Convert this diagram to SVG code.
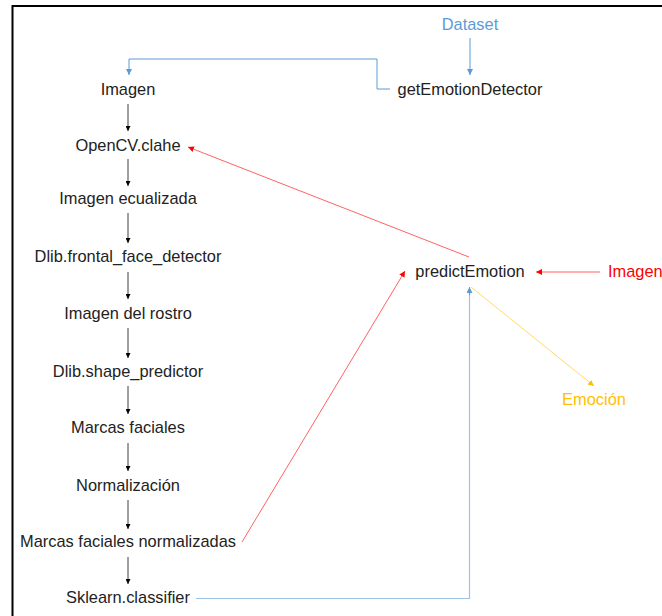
<svg xmlns="http://www.w3.org/2000/svg" width="662" height="616" viewBox="0 0 662 616">
<defs>
<style>
text{font-family:"Liberation Sans",Arial,sans-serif;font-size:16.4px;fill:#222;text-anchor:middle}
.blue{fill:#5B9BD5}.red{fill:#FF0000}.yel{fill:#FFC000}
.k{stroke:#404040;stroke-width:1;fill:none;marker-end:url(#ak)}
.b{stroke:#5B9BD5;stroke-width:1;fill:none}
.bl{stroke:#9DC3E6;stroke-width:1.2;fill:none}
.r{stroke:#FF5050;stroke-width:0.9;fill:none;marker-end:url(#ar)}
.y{stroke:#FFD966;stroke-width:1;fill:none;marker-end:url(#ay)}
</style>
<marker id="ak" viewBox="0 0 10 10" refX="10" refY="5" markerWidth="5" markerHeight="5" markerUnits="userSpaceOnUse" orient="auto"><path d="M0,0L10,5L0,10z" fill="#000"/></marker>
<marker id="ab" viewBox="0 0 10 10" refX="10" refY="5" markerWidth="6" markerHeight="6" markerUnits="userSpaceOnUse" orient="auto"><path d="M0,0L10,5L0,10z" fill="#5B9BD5"/></marker>
<marker id="ar" viewBox="0 0 10 10" refX="10" refY="5" markerWidth="6" markerHeight="6" markerUnits="userSpaceOnUse" orient="auto"><path d="M0,0L10,5L0,10z" fill="#FF0000"/></marker>
<marker id="ay" viewBox="0 0 10 10" refX="10" refY="5" markerWidth="6" markerHeight="6" markerUnits="userSpaceOnUse" orient="auto"><path d="M0,0L10,5L0,10z" fill="#FFC000"/></marker>
</defs>
<rect x="0" y="0" width="662" height="616" fill="#fff"/>
<rect x="12.5" y="6" width="700" height="700" fill="none" stroke="#000" stroke-width="2"/>
<g id="connectors">
<line class="k" x1="128" y1="104" x2="128" y2="131"/>
<line class="k" x1="128" y1="159" x2="128" y2="186"/>
<line class="k" x1="128" y1="213" x2="128" y2="243"/>
<line class="k" x1="128" y1="272" x2="128" y2="299"/>
<line class="k" x1="128" y1="328" x2="128" y2="358"/>
<line class="k" x1="128" y1="386" x2="128" y2="414"/>
<line class="k" x1="128" y1="443" x2="128" y2="471"/>
<line class="k" x1="128" y1="500" x2="128" y2="529"/>
<line class="k" x1="128" y1="557" x2="128" y2="584"/>
<line class="b" x1="470" y1="38" x2="470" y2="75" marker-end="url(#ab)"/>
<polyline class="b" points="390,89 377,89 377,59 129,59 129,75" marker-end="url(#ab)"/>
<polyline class="bl" points="196,598.5 469.5,598.5 469.5,289"/>
<line x1="469.5" y1="295" x2="469.5" y2="287" stroke="#5B9BD5" stroke-width="1" marker-end="url(#ab)"/>
<line class="r" x1="469" y1="257" x2="188" y2="147"/>
<line class="r" x1="242" y1="542" x2="405" y2="271"/>
<line class="r" x1="600" y1="272" x2="536" y2="272"/>
<line class="y" x1="471" y1="287" x2="594" y2="386"/>
</g>
<g id="dataset"><text class="blue" x="470" y="30">Dataset</text></g>
<g id="getEmotionDetector"><text x="470" y="95">getEmotionDetector</text></g>
<g id="imagen"><text x="128" y="95">Imagen</text></g>
<g id="opencv-clahe"><text x="128" y="151">OpenCV.clahe</text></g>
<g id="imagen-ecualizada"><text x="128" y="204">Imagen ecualizada</text></g>
<g id="dlib-frontal"><text x="128" y="262">Dlib.frontal_face_detector</text></g>
<g id="imagen-rostro"><text x="128" y="319">Imagen del rostro</text></g>
<g id="dlib-shape"><text x="128" y="377">Dlib.shape_predictor</text></g>
<g id="marcas-faciales"><text x="128" y="433">Marcas faciales</text></g>
<g id="normalizacion"><text x="128" y="491">Normalización</text></g>
<g id="marcas-normalizadas"><text x="128" y="547">Marcas faciales normalizadas</text></g>
<g id="sklearn"><text x="128" y="603">Sklearn.classifier</text></g>
<g id="predictEmotion"><text x="470" y="277">predictEmotion</text></g>
<g id="imagen-input"><text class="red" x="608" y="277" style="text-anchor:start">Imagen</text></g>
<g id="emocion"><text class="yel" x="594" y="405">Emoción</text></g>
</svg>
